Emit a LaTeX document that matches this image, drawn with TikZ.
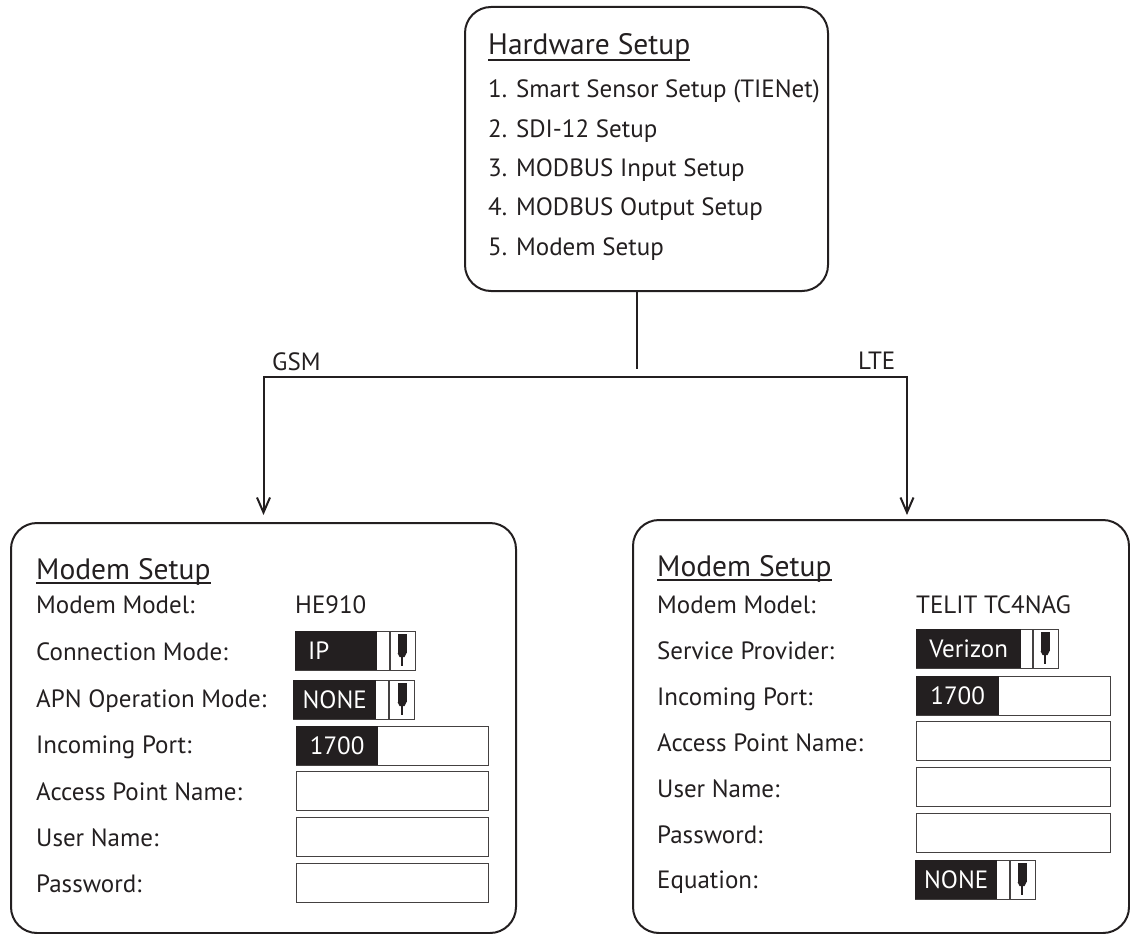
\documentclass[tikz,border=0pt]{standalone}
\usepackage{fontspec}
\setmainfont{PT Sans}
\usepackage{xcolor}
\usepackage{tikz}
\usetikzlibrary{arrows.meta, positioning, calc}

\definecolor{ink}{HTML}{231F20}

\begin{document}
\begin{tikzpicture}[
    x=1pt, y=-1pt,
    panel/.style={draw=ink, line width=2pt, rounded corners=26pt, anchor=north west, inner sep=0pt},
    lbl/.style={anchor=base west, inner sep=0pt, text=ink, font=\fontsize{25}{30}\selectfont},
    ttl/.style={lbl, font=\fontsize{29.5}{34}\selectfont},
    field/.style={draw=ink!85, line width=1.3pt, anchor=north west, inner sep=0pt, minimum height=39pt},
    val/.style={fill=ink, text=white, anchor=north west, inner sep=0pt, minimum height=39pt,
                font=\fontsize{25}{30}\selectfont},
    sep/.style={draw=ink!85, line width=1.3pt},
    wire/.style={draw=ink, line width=2pt},
    arr/.style={wire, -{Straight Barb[length=15pt, width=13pt, line width=2pt]}},
    uline/.style={draw=ink, line width=1.6pt},
    ddarrow/.pic={
        \fill[ink] (-4.5,3) rectangle (4.5,22);
        \fill[ink] (-4.5,22) -- (4.5,22) -- (2.5,26) -- (-2.5,26) -- cycle;
        \draw[ink, line width=1.5pt] (0,26) -- (0,35);
    },
]
    \useasboundingbox (0,0) rectangle (1130,934);

    % Panels
    \node[panel, minimum width=363pt, minimum height=284pt] (hw) at (464,6) {};
    \node[panel, minimum width=505pt, minimum height=410pt] (gsm) at (10,522) {};
    \node[panel, minimum width=496pt, minimum height=413pt] (lte) at (632,519) {};

    % Hardware menu
    \node[ttl] (hwtitle) at (488,55) {Hardware Setup};
    \draw[uline] ([yshift=-5pt]hwtitle.base west) -- ([yshift=-5pt]hwtitle.base east);
    \foreach \t [count=\i] in {1. Smart Sensor Setup (TIENet), 2. SDI-12 Setup,
                               3. MODBUS Input Setup, 4. MODBUS Output Setup, 5. Modem Setup}
        \node[lbl] (hw\i) at (488,{58.7+39.3*\i}) {\t};

    % Branches
    \coordinate (split) at (637,369);
    \coordinate (bus) at (637,377);
    \draw[wire] (hw.south -| split) -- (split);
    \draw[arr, shorten >=7pt] (bus) -| (gsm.north);
    \draw[arr, shorten >=4pt] (bus) -| ([xshift=26pt]lte.north);
    \node[lbl] (gsmlbl) at (272,370) {GSM};
    \node[lbl] (ltelbl) at (858,369) {LTE};

    % GSM modem setup
    \node[ttl] (gtitle) at (36,579) {Modem Setup};
    \draw[uline] ([yshift=-4pt]gtitle.base west) -- ([yshift=-4pt]gtitle.base east);
    \foreach \y/\t [count=\i] in {613/Modem Model:, 660/Connection Mode:, 707/APN Operation Mode:,
                                  753/Incoming Port:, 800/Access Point Name:, 846/User Name:, 892/Password:}
        \node[lbl] (gl\i) at (36,\y) {\t};
    \node[lbl] (gmodel) at (295,613) {HE910};

    \node[field, minimum width=120pt] (gconn) at (295,631) {};
    \node[val, minimum width=82pt, inner xsep=13pt, text width=56pt, align=left] (gconnv) at (gconn.north west) {IP};
    \draw[sep] ([xshift=95pt]gconn.north west) -- ([xshift=95pt]gconn.south west);
    \path ([xshift=107pt]gconn.north west) pic {ddarrow};

    \node[field, minimum width=121pt] (gapnop) at (293,680) {};
    \node[val, minimum width=83pt] (gapnopv) at (gapnop.north west) {NONE};
    \draw[sep] ([xshift=96pt]gapnop.north west) -- ([xshift=96pt]gapnop.south west);
    \path ([xshift=109pt]gapnop.north west) pic {ddarrow};

    \node[field, minimum width=192pt] (gport) at (296,726) {};
    \node[val, minimum width=82pt] (gportv) at (gport.north west) {1700};
    \node[field, minimum width=192pt] (gapn) at (296,771) {};
    \node[field, minimum width=192pt] (guser) at (296,817) {};
    \node[field, minimum width=192pt] (gpass) at (296,863) {};

    % LTE modem setup
    \node[ttl] (ltitle) at (657,576) {Modem Setup};
    \draw[uline] ([yshift=-4pt]ltitle.base west) -- ([yshift=-4pt]ltitle.base east);
    \foreach \y/\t [count=\i] in {613/Modem Model:, 659/Service Provider:, 705/Incoming Port:,
                                  751/Access Point Name:, 797/User Name:, 843/Password:, 888/Equation:}
        \node[lbl] (ll\i) at (657,\y) {\t};
    \node[lbl] (lmodel) at (916,613) {TELIT TC4NAG};

    \node[field, minimum width=142pt] (lprov) at (916,629) {};
    \node[val, minimum width=105pt] (lprovv) at (lprov.north west) {Verizon};
    \draw[sep] ([xshift=117pt]lprov.north west) -- ([xshift=117pt]lprov.south west);
    \path ([xshift=129pt]lprov.north west) pic {ddarrow};

    \node[field, minimum width=194pt] (lport) at (916,676) {};
    \node[val, minimum width=83pt] (lportv) at (lport.north west) {1700};
    \node[field, minimum width=194pt] (lapn) at (916,721) {};
    \node[field, minimum width=194pt] (luser) at (916,767) {};
    \node[field, minimum width=194pt] (lpass) at (916,813) {};

    \node[field, minimum width=120pt] (leq) at (915,860) {};
    \node[val, minimum width=82pt] (leqv) at (leq.north west) {NONE};
    \draw[sep] ([xshift=95pt]leq.north west) -- ([xshift=95pt]leq.south west);
    \path ([xshift=107pt]leq.north west) pic {ddarrow};

\end{tikzpicture}
\end{document}
